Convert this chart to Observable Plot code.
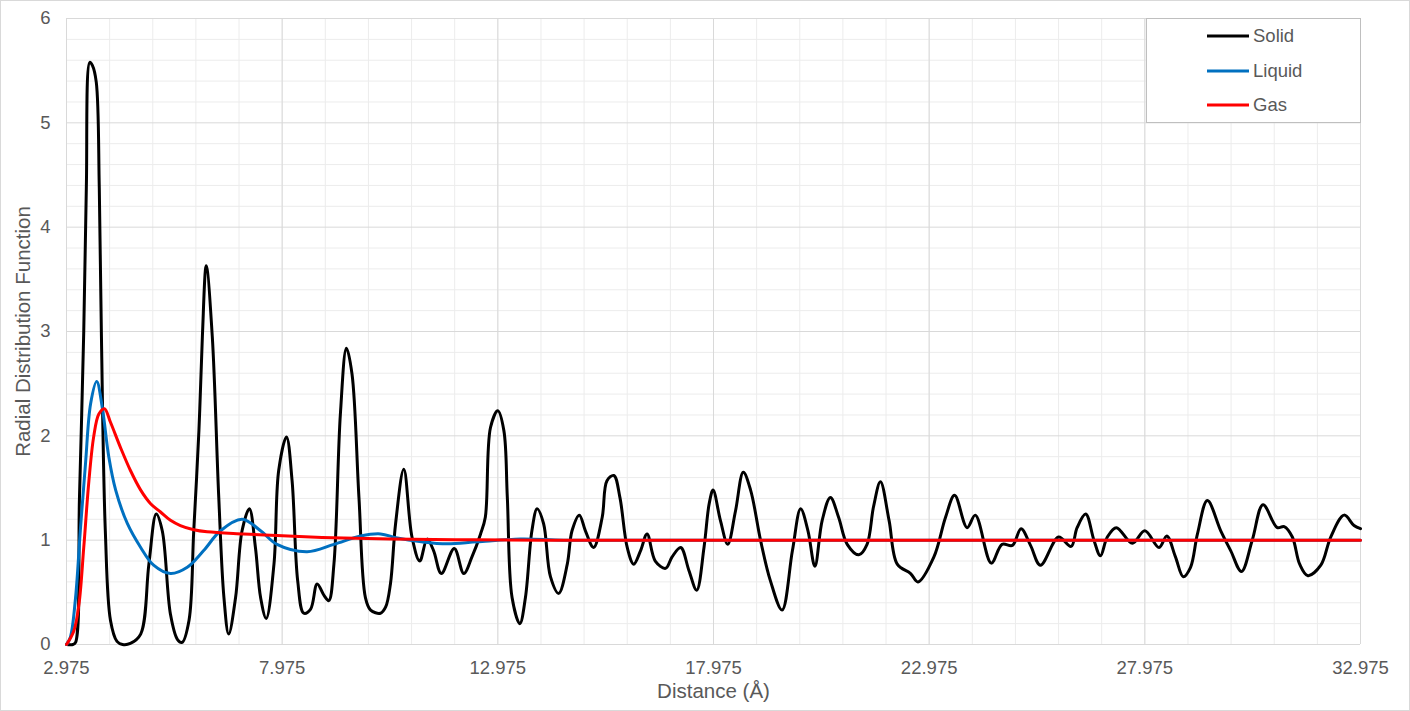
<!DOCTYPE html>
<html>
<head>
<meta charset="utf-8">
<script src="https://cdn.jsdelivr.net/npm/d3@7"></script>
<script src="https://cdn.jsdelivr.net/npm/@observablehq/plot@0.6"></script>
<style>
  html, body { margin: 0; padding: 0; background: #fff; }
  #wrap { position: relative; width: 1410px; height: 711px; font-family: "Liberation Sans", Arial, sans-serif; }
  #border { position: absolute; left: 0; top: 0; width: 1408px; height: 709px; border: 1px solid #d9d9d9; pointer-events: none; }
  #legend { position: absolute; left: 1146px; top: 18px; width: 213px; height: 103px; border: 1px solid #bfbfbf; background: #fff; }
  .item { position: absolute; left: 60px; height: 22px; display: flex; align-items: center; font-size: 18.5px; color: #595959; }
  .item svg { margin-right: 4px; }
</style>
</head>
<body>
<div id="wrap">
  <div id="chart"></div>
  <div id="legend"></div>
  <div id="border"></div>
</div>
<script>
// Series names and colours
const seriesNames = ["Solid", "Liquid", "Gas"];
const seriesColors = ["#000000", "#0070C0", "#FF0000"];

// Solid: [distance, g(r)]
const solid = [
  [2.975,0],[3.125,0],[3.185,0.02],[3.275,1.4],[3.375,3.0],[3.435,4.38],[3.515,5.58],[3.575,5.55],[3.665,5.39],
  [3.735,4.38],[3.785,2.95],[3.875,1.09],[3.995,0.23],[4.145,0.03],[4.275,0],[4.455,0.01],[4.695,0.1],[4.885,0.77],
  [5.055,1.25],[5.195,1.09],[5.385,0.29],[5.545,0.05],[5.655,0.02],[5.815,0.23],[5.925,1.09],[6.045,2.05],[6.125,2.95],
  [6.215,3.63],[6.355,2.95],[6.505,1.41],[6.625,0.45],[6.735,0.1],[6.895,0.45],[7.045,1.09],[7.215,1.30],[7.355,0.93],
  [7.475,0.45],[7.605,0.25],[7.785,0.77],[7.895,1.67],[8.075,1.99],[8.205,1.57],[8.335,0.61],[8.475,0.30],[8.635,0.34],
  [8.785,0.58],[8.945,0.47],[9.055,0.42],[9.175,0.77],[9.325,2.21],[9.465,2.84],[9.595,2.59],[9.755,1.41],[9.905,0.45],
  [10.025,0.33],[10.255,0.30],[10.375,0.36],[10.485,0.58],[10.605,1.16],[10.795,1.68],[10.985,1.03],[11.165,0.80],
  [11.335,1.01],[11.485,0.90],[11.665,0.68],[11.965,0.92],[12.185,0.68],[12.375,0.84],[12.575,1.06],[12.685,1.22],
  [12.805,2.08],[12.975,2.24],[13.115,2.05],[13.195,1.41],[13.305,0.45],[13.485,0.20],[13.615,0.45],[13.765,1.09],
  [13.885,1.30],[14.035,1.16],[14.195,0.65],[14.385,0.49],[14.585,0.77],[14.695,1.09],[14.865,1.24],[15.005,1.09],
  [15.195,0.93],[15.395,1.22],[15.505,1.57],[15.665,1.62],[15.805,1.41],[15.975,0.93],[16.125,0.77],[16.285,0.90],
  [16.435,1.06],[16.625,0.80],[16.865,0.73],[17.015,0.84],[17.215,0.93],[17.405,0.71],[17.585,0.52],[17.755,0.93],
  [17.875,1.35],[17.965,1.48],[18.135,1.19],[18.305,0.96],[18.485,1.28],[18.665,1.65],[18.835,1.48],[19.065,1.0],
  [19.295,0.61],[19.565,0.33],[19.805,0.90],[19.995,1.30],[20.165,1.09],[20.325,0.75],[20.495,1.19],[20.685,1.41],
  [20.875,1.22],[21.075,0.96],[21.345,0.86],[21.535,0.96],[21.685,1.32],[21.845,1.56],[22.045,1.19],[22.235,0.77],
  [22.545,0.68],[22.715,0.60],[23.085,0.84],[23.355,1.22],[23.565,1.43],[23.855,1.12],[24.045,1.24],[24.415,0.78],
  [24.665,0.96],[24.905,0.95],[25.105,1.11],[25.325,0.95],[25.555,0.76],[25.975,1.03],[26.265,0.94],[26.405,1.12],
  [26.605,1.25],[26.795,1.0],[26.945,0.85],[27.105,1.03],[27.315,1.12],[27.685,0.97],[27.975,1.09],[28.305,0.93],
  [28.485,1.04],[28.685,0.84],[28.865,0.65],[29.035,0.74],[29.195,1.06],[29.425,1.38],[29.735,1.09],[29.965,0.90],
  [30.215,0.70],[30.465,1.0],[30.715,1.34],[31.045,1.12],[31.205,1.13],[31.395,1.03],[31.565,0.77],[31.755,0.66],
  [32.055,0.76],[32.285,1.03],[32.595,1.24],[32.825,1.14],[32.975,1.11]
];

// Liquid
const liquid = [
  [2.975,0],[3.065,0.07],[3.185,0.45],[3.295,1.09],[3.415,1.73],[3.535,2.31],[3.675,2.52],[3.805,2.27],[3.955,1.80],
  [4.115,1.48],[4.385,1.16],[4.695,0.93],[4.995,0.76],[5.385,0.68],[5.775,0.74],[6.155,0.90],[6.545,1.09],[7.045,1.20],
  [7.475,1.09],[7.855,0.96],[8.555,0.89],[9.175,0.96],[9.795,1.04],[10.255,1.06],[10.645,1.02],[11.2,0.985],
  [11.8,0.965],[12.5,0.985],[13.5,1.01],[14.5,1.0],[16.0,1.0],[20.0,1.0],[25.0,1.0],[32.975,1.0]
];

// Gas
const gas = [
  [2.975,0],[3.145,0.13],[3.265,0.39],[3.375,0.93],[3.495,1.57],[3.605,1.99],[3.725,2.21],[3.855,2.26],[3.995,2.13],
  [4.225,1.89],[4.455,1.67],[4.695,1.48],[4.925,1.35],[5.155,1.27],[5.385,1.19],[5.615,1.14],[5.925,1.10],[6.235,1.08],
  [7.085,1.06],[7.855,1.045],[8.635,1.03],[9.405,1.02],[10.485,1.01],[12.0,1.005],[14.0,1.0],[20.0,1.0],[26.0,1.0],[32.975,1.0]
];

// Axis ticks
const xMajorTicks = [2.975, 7.975, 12.975, 17.975, 22.975, 27.975, 32.975];
const xMinorTicks = d3.range(3.975, 32.975, 1);
const yMajorTicks = [0, 1, 2, 3, 4, 5, 6];
const yMinorTicks = d3.range(0.2, 6, 0.2).filter(v => Math.abs(v - Math.round(v)) > 1e-6);

const xLabel = "Distance (Å)";
const yLabel = "Radial Distribution Function";

const rows = [];
[solid, liquid, gas].forEach((arr, i) => arr.forEach(([x, y]) => rows.push({series: seriesNames[i], x, y})));

const textColor = "#595959";

const chart = Plot.plot({
  width: 1410,
  height: 711,
  marginLeft: 66,
  marginRight: 50,
  marginTop: 18,
  marginBottom: 67,
  style: {fontFamily: '"Liberation Sans", Arial, sans-serif', fontSize: "18px", color: textColor, background: "transparent"},
  x: {domain: [2.975, 32.975]},
  y: {domain: [0, 6]},
  color: {domain: seriesNames, range: seriesColors},
  marks: [
    Plot.ruleX(xMinorTicks, {stroke: "#ececec", strokeWidth: 1}),
    Plot.ruleY(yMinorTicks, {stroke: "#ececec", strokeWidth: 1}),
    Plot.ruleX(xMajorTicks, {stroke: "#d9d9d9", strokeWidth: 1}),
    Plot.ruleY(yMajorTicks, {stroke: "#d9d9d9", strokeWidth: 1}),
    Plot.line(rows, {x: "x", y: "y", z: "series", stroke: "series", strokeWidth: 3, curve: "catmull-rom"}),
    Plot.axisX(xMajorTicks, {tickSize: 0, tickPadding: 16, tickFormat: d => d.toFixed(3), fontSize: 18.5, fill: textColor, label: null}),
    Plot.axisY(yMajorTicks, {tickSize: 0, tickPadding: 16, tickFormat: d => String(d), fontSize: 18.5, fill: textColor, label: null}),
    Plot.text([xLabel], {frameAnchor: "bottom", dy: 53, fontSize: 20.5, fill: textColor}),
    Plot.text([yLabel], {frameAnchor: "left", textAnchor: "middle", lineAnchor: "middle", dx: -43, rotate: -90, fontSize: 20.5, fill: textColor})
  ]
});
document.getElementById("chart").appendChild(chart);

// Legend
const legend = document.getElementById("legend");
seriesNames.forEach((name, i) => {
  const item = document.createElement("div");
  item.className = "item";
  item.style.top = (6 + i * 34.5) + "px";
  item.innerHTML = `<svg width="42" height="6"><line x1="0" y1="3" x2="42" y2="3" stroke="${seriesColors[i]}" stroke-width="3"/></svg><span>${name}</span>`;
  legend.appendChild(item);
});
</script>
</body>
</html>
